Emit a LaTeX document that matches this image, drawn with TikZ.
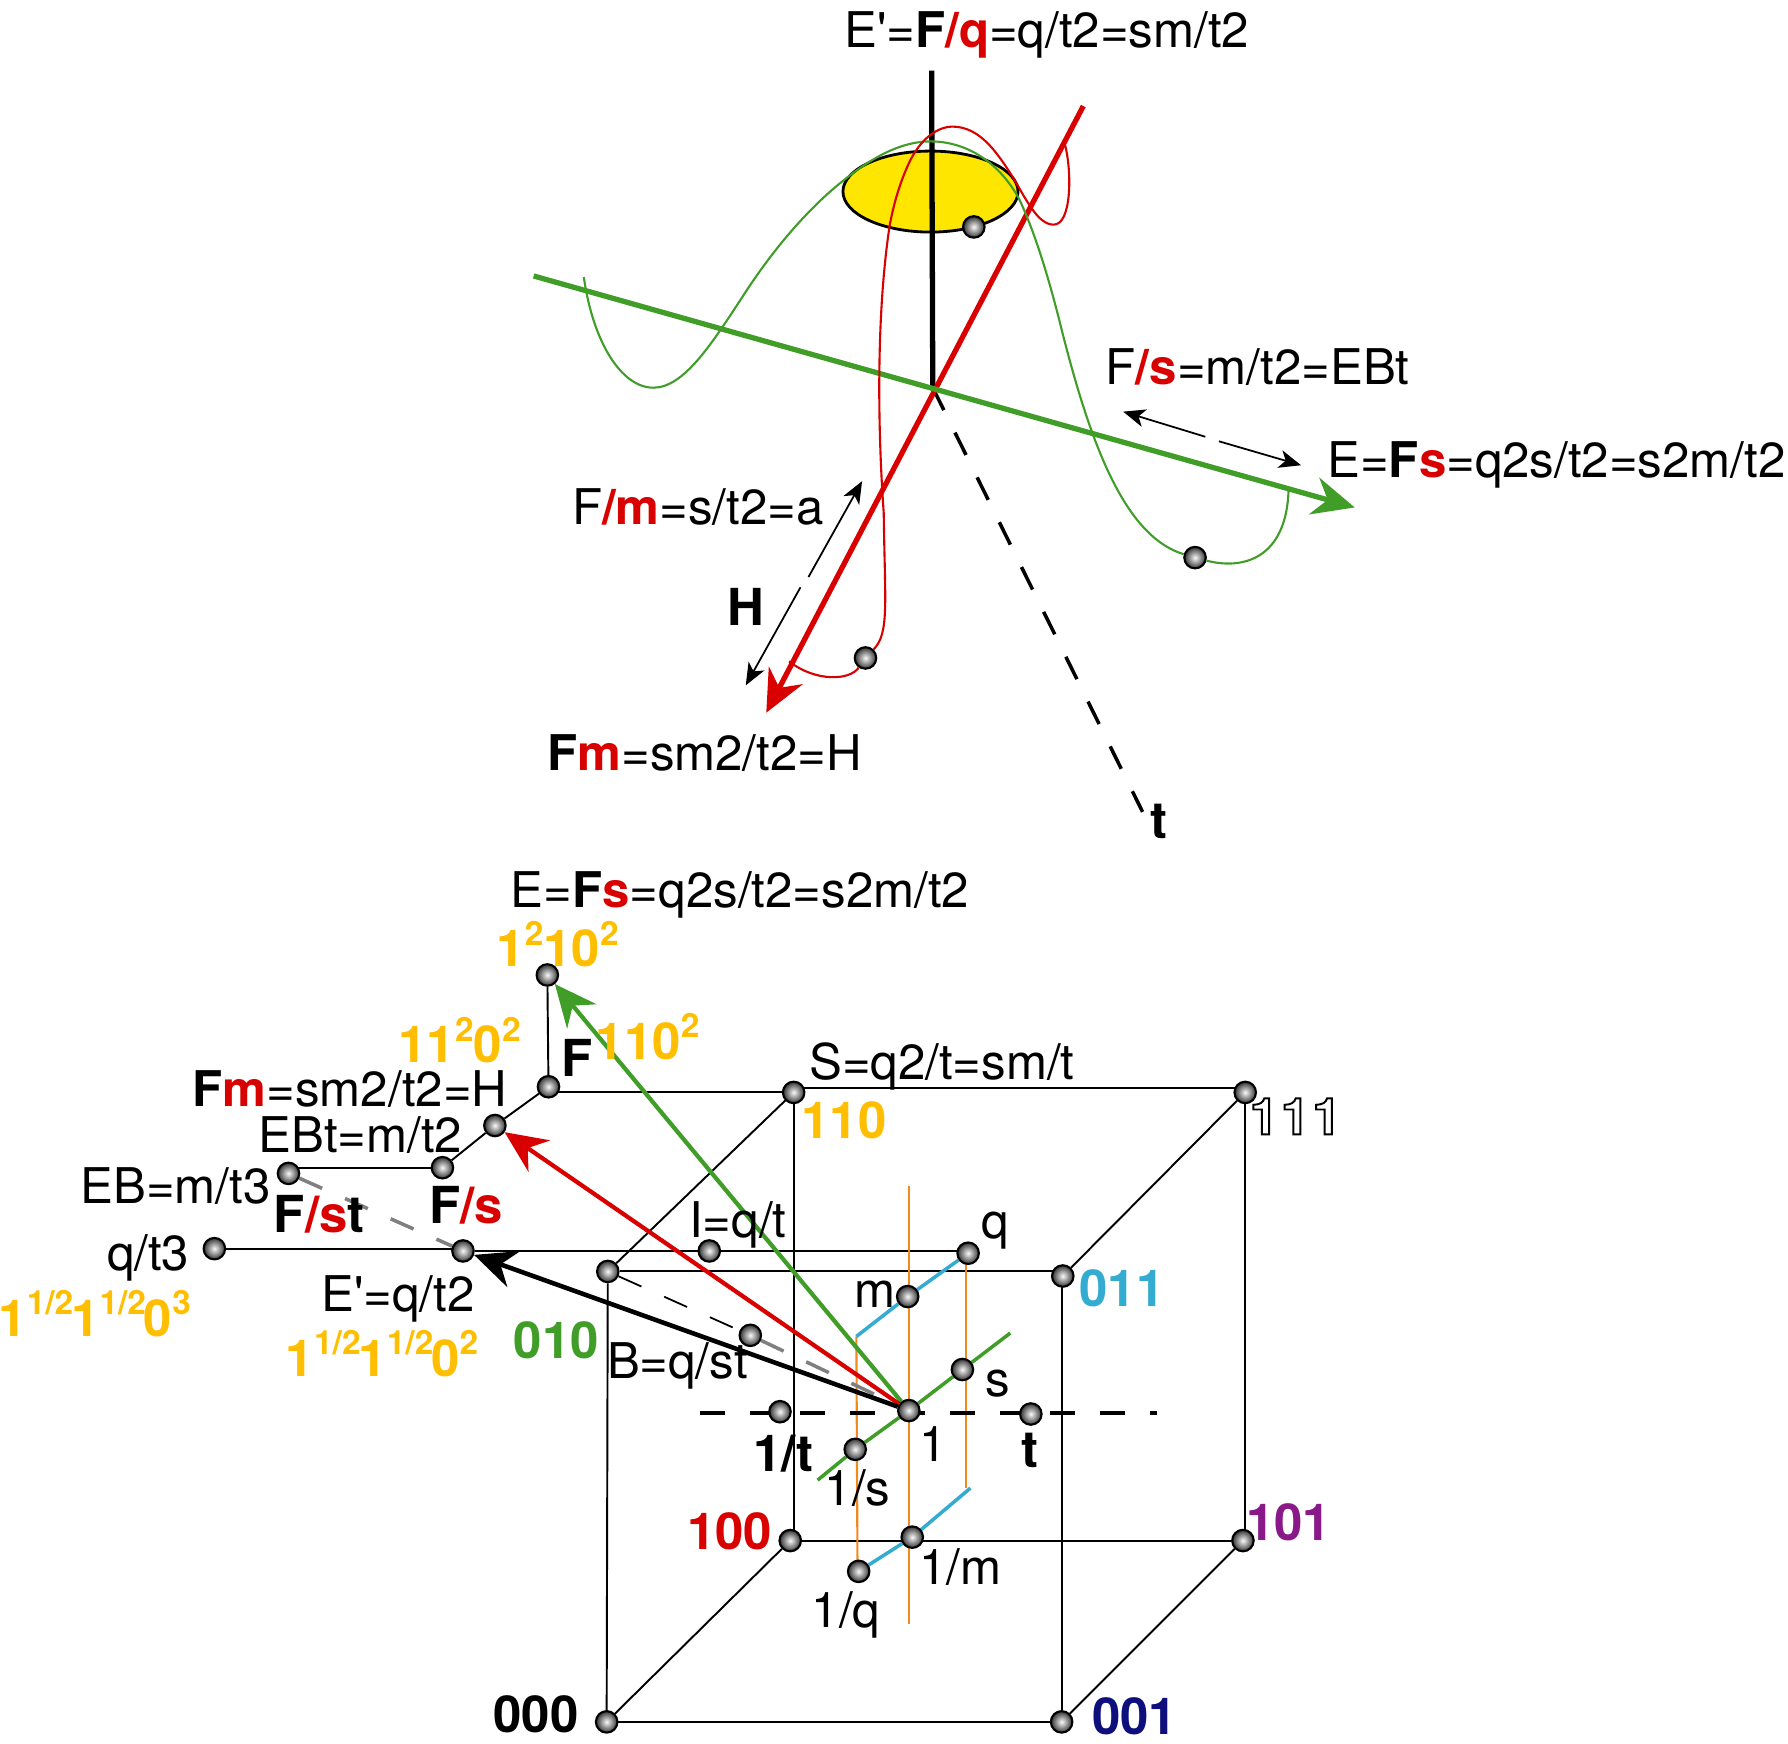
\documentclass[tikz,border=0pt]{standalone}
\usepackage{fontspec}
\setmainfont{TeX Gyre Heros}
\newfontfamily\herosplain{TeX Gyre Heros}
\usepackage{tikz}
\usetikzlibrary{arrows.meta,positioning,calc,backgrounds,shapes.geometric}
\definecolor{cred}{RGB}{217,0,0}
\definecolor{cgreen}{RGB}{64,158,40}
\definecolor{cblue}{RGB}{52,171,208}
\definecolor{corange}{RGB}{240,138,29}
\definecolor{cgold}{RGB}{255,190,0}
\definecolor{cpurple}{RGB}{137,24,137}
\definecolor{cnavy}{RGB}{14,14,124}
\definecolor{cyellow}{RGB}{255,230,0}
\newcommand{\rb}[1]{\textbf{\textcolor{cred}{#1}}}
\newcommand{\up}[1]{\raisebox{0.42em}{\fontsize{9.5}{10}\selectfont #1}}
\newcommand{\half}{\up{1/2}\hspace{-0.04em}}
\newcommand{\hollow}[1]{\special{pdf:code q 1 Tr 0.55 w}#1\special{pdf:code Q}}
\newcommand{\prm}{{\herosplain'}}

\begin{document}
\begin{tikzpicture}[
  x=0.0114cm, y=-0.0114cm,
  ball/.style={circle, draw=black, line width=0.6pt, inner color=gray!5, outer color=black!80, minimum size=0.215cm, inner sep=0pt},
  lab/.style={font=\fontsize{14}{15}\selectfont, inner sep=0pt},
  blab/.style={lab, font=\fontsize{14.5}{16}\selectfont\bfseries},
  edge/.style={line width=0.55pt},
  thread/.style={line width=0.6pt},
  axis/.style={line width=1.5pt},
  tip/.style={-{Stealth[length=4.2mm, width=3.8mm, inset=1.4mm]}},
  span/.style={line width=0.5pt, -{Stealth[length=2.2mm, width=1.8mm, inset=0.6mm]}},
  gap/.style={dash pattern=on 2.5mm off 2.5mm}
]
\useasboundingbox (0,0) rectangle (1568,1529);

% upper figure
\node[draw=black, line width=0.8pt, fill=cyellow, ellipse, minimum width=1.75cm, minimum height=0.81cm, inner sep=0pt] (disk) at (816,168) {};
\coordinate (o) at (818,340);
\coordinate (vtop) at (817,62);
\coordinate (rtop) at (950,93);
\coordinate (rend) at (672,625);
\coordinate (gtop) at (468,242);
\coordinate (gend) at (1188,445);
\coordinate (dend) at (1002,712);
\draw[axis, black] (vtop) -- (o);
\draw[line width=1pt, black, gap] (o) -- (dend);
\draw[axis, cred, tip] (rtop) -- (rend);
\draw[axis, cgreen, tip] (gtop) -- (gend);

\node[ball] (p1) at (854,199) {};
\node[ball] (p2) at (759,577) {};
\node[ball] (p3) at (1048,489) {};

\draw[thread, cgreen] (512,243) .. controls (520,300) and (545,340) .. (573,340)
  .. controls (600,340) and (625,300) .. (650,262)
  .. controls (680,215) and (712,180) .. (740,158)
  .. controls (765,138) and (790,124) .. (816,124)
  .. controls (850,124) and (878,145) .. (894,175)
  .. controls (908,205) and (920,245) .. (930,285)
  .. controls (955,385) and (985,470) .. (p3)
  .. controls (1090,500) and (1128,490) .. (1130,430);
\draw[thread, cred] (p2) .. controls (780,555) and (776,530) .. (775,450)
  .. controls (770,380) and (768,280) .. (780,199)
  .. controls (785,170) and (795,145) .. (802,134)
  .. controls (812,118) and (825,111) .. (835,111)
  .. controls (860,111) and (875,135) .. (888,155)
  .. controls (900,175) and (910,197) .. (924,197)
  .. controls (940,197) and (940,150) .. (934,127);
\draw[thread, cred] (692,580) .. controls (715,598) and (745,597) .. (p2);

\node[lab] (lEp) at (918,31) {E\prm=\textbf{F}\rb{/q}=q/t2=sm/t2};
\node[lab] (lFs) at (1103,322) {F\rb{/s}=m/t2=EBt};
\node[lab] (lE) at (1365,408) {E=\textbf{F}\rb{s}=q2s/t2=s2m/t2};
\node[lab] (lFm) at (612,445) {F\rb{/m}=s/t2=a};
\node[blab] (lH) at (654,532) {H};
\node[lab] (lH2) at (618,660) {\textbf{F}\rb{m}=sm2/t2=H};
\node[blab] (lt) at (1016,720) {t};

\coordinate (a1) at (756,422);
\coordinate (a2) at (654,601);
\coordinate (a3) at (709,506);
\coordinate (a4) at (702,515);
\draw[span] (a3) -- (a1);
\draw[span] (a4) -- (a2);
\coordinate (b1) at (985,361);
\coordinate (b2) at (1141,408);
\coordinate (b3) at (1057,383);
\coordinate (b4) at (1069,387);
\draw[span] (b3) -- (b1);
\draw[span] (b4) -- (b2);

% lower figure
\foreach \n/\x/\y in {c000/532/1510,c001/931/1510,c010/533/1115,c011/932/1119,c100/693/1351,c101/1090/1351,c110/696/958,c111/1092/958,e2/480/855,f/481/953,fm/434/987,ebt/388/1024,eb/253/1029,es/406/1097,qt3/188/1095,i/622/1097,q/849/1099,m/796/1137,s/844/1201,b/658/1171,one/797/1237,onet/684/1238,t/904/1240,ones/750/1271,onem/800/1348,oneq/753/1378}
  \node[ball] (\n) at (\x,\y) {};

\coordinate (or1) at (797,1040);
\coordinate (or2) at (797,1424);
\coordinate (or3) at (847,1099);
\coordinate (or4) at (847,1305);
\coordinate (or5) at (751,1172);
\coordinate (or6) at (752,1378);
\coordinate (bl1) at (851,1305);
\coordinate (gr1) at (886,1169);
\coordinate (gr2) at (717,1298);
\coordinate (ds1) at (614,1239);
\coordinate (ds2) at (1015,1239);

\begin{pgfonlayer}{background}
\foreach \a/\b in {c000/c001,c000/c010,c000/c100,c001/c101,c010/c110,c011/c111,e2/f,f/fm,fm/ebt}
  \draw[edge] (\a) -- (\b);
\draw[edge] (c010) -- (c010 -| c011);
\draw[edge] (c001) -- (c001 |- c011);
\draw[edge] (c100) -- (c100 -| c101);
\draw[edge] (c110) -- (c110 |- c100);
\draw[edge] ([yshift=0.04cm]c110.center) -- ([yshift=0.04cm]c110.center -| c111);
\draw[edge] (c111) -- (c111 |- c101);
\draw[edge] (c110 -| f) -- (c110);
\draw[edge] (ebt) -- (ebt -| eb);
\draw[edge] (qt3) -- (qt3 -| es);
\draw[edge] (es) -- (es -| q);
\draw[thread, corange] (or1) -- (or2);
\draw[thread, corange] (or3) -- (or4);
\draw[thread, corange] (or5) -- (or6);
\draw[line width=1pt, cblue] (q) -- (m) -- (or5);
\draw[line width=1pt, cblue] (oneq) -- (onem) -- (bl1);
\draw[line width=1pt, cgreen] (gr1) -- (s) -- (one) -- (ones) -- (gr2);
\draw[line width=1pt, black, gap] (ds1) -- (ds2);
\draw[line width=0.5pt, gap] (c010) -- (b);
\draw[line width=1pt, gray, gap] (b) -- (one);
\draw[line width=1pt, gray, gap] (eb) -- (es);
\draw[line width=1.2pt, cgreen, tip] (one) -- (e2);
\draw[line width=1.2pt, cred, tip] (one) -- (fm);
\draw[line width=1.3pt, black, tip] (one) -- (es);
\end{pgfonlayer}

\node[lab] (lE2) at (649,785) {E=\textbf{F}\rb{s}=q2s/t2=s2m/t2};
\node[blab, cgold] (n1) at (489,828) {1\up{2}10\up{2}};
\node[blab, cgold] (n2) at (403,912) {11\up{2}0\up{2}};
\node[blab, cgold] (n3) at (568,909) {110\up{2}};
\node[blab] (lF) at (506,928) {F};
\node[lab] (lS) at (826,935) {S=q2/t=sm/t};
\node[blab, cgold] (n110) at (740,982) {110};
\node[blab] (n111) at (1136,979) {\hollow{1\hspace{0.06em}1\hspace{0.06em}1}};
\node[lab] (lFm2) at (307,955) {\textbf{F}\rb{m}=sm2/t2=H};
\node[lab] (lEBt) at (316,995) {EBt=m/t2};
\node[lab] (lEB) at (154,1040) {EB=m/t3};
\node[blab] (lFst) at (280,1065) {F\textcolor{cred}{/s}t};
\node[blab] (lFs2) at (409,1057) {F\textcolor{cred}{/s}};
\node[lab] (lqt3) at (130,1103) {q/t3};
\node[blab, cgold] (n4) at (83,1152) {1\half1\half0\up{3}};
\node[lab] (lEp2) at (349,1139) {E\prm=q/t2};
\node[blab, cgold] (n5) at (335,1187) {1\half1\half0\up{2}};
\node[blab, cgreen] (n010) at (488,1175) {010};
\node[lab] (lB) at (594,1198) {B=q/st};
\node[lab] (lI) at (647,1074) {I=q/t};
\node[lab] (lq) at (873,1079) {q};
\node[blab, cblue] (n011) at (984,1130) {011};
\node[lab] (lm) at (767,1135) {m};
\node[lab] (ls) at (875,1213) {s};
\node[lab] (l1) at (818,1266) {1};
\node[blab] (lt2) at (903,1272) {t};
\node[blab] (l1t) at (687,1275) {1/t};
\node[lab] (l1s) at (752,1305) {1/s};
\node[blab, cred] (n100) at (640,1343) {100};
\node[blab, cpurple] (n101) at (1130,1335) {101};
\node[lab] (l1m) at (842,1374) {1/m};
\node[lab] (l1q) at (742,1416) {1/q};
\node[blab] (n000) at (470,1503) {000};
\node[blab, cnavy] (n001) at (995,1505) {001};
\end{tikzpicture}
\end{document}
